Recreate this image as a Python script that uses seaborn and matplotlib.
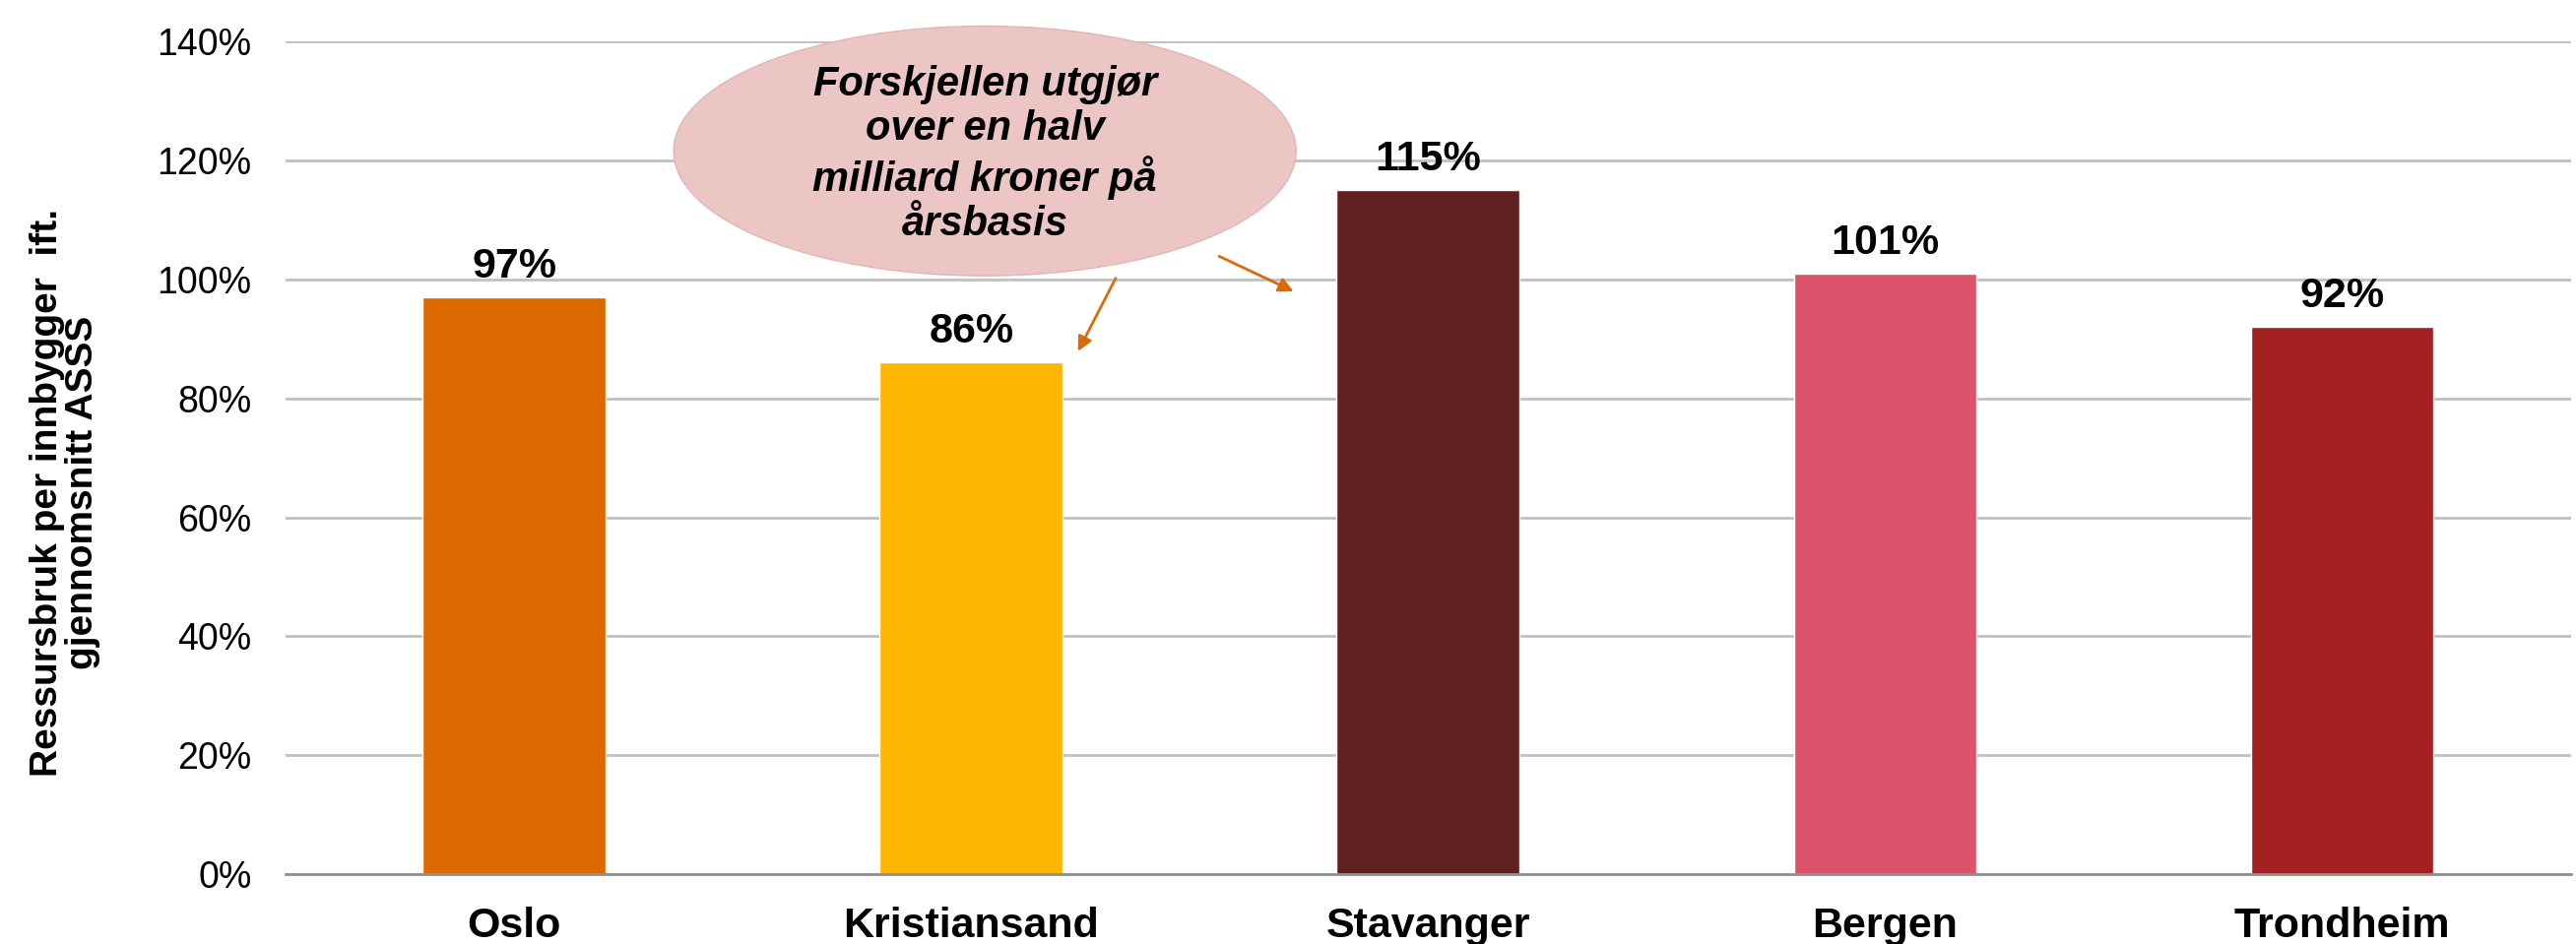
import matplotlib
matplotlib.use("Agg")
import matplotlib.pyplot as plt
from matplotlib.patches import Ellipse
import seaborn as sns
import pandas as pd

# chart data
cities = ["Oslo", "Kristiansand", "Stavanger", "Bergen", "Trondheim"]
ressursbruk = [97, 86, 115, 101, 92]
bar_colors = ["#DC6900", "#FFB600", "#602020", "#DB536A", "#A32020"]
y_ticks = [0, 20, 40, 60, 80, 100, 120, 140]
note_text = "Forskjellen utgjør\nover en halv\nmilliard kroner på\nårsbasis"
y_label = "Ressursbruk per innbygger  ift.\ngjennomsnitt ASSS"

df = pd.DataFrame({"by": cities, "verdi": ressursbruk})

sns.set_theme(style="white")
plt.rcParams["font.family"] = ["Liberation Sans", "DejaVu Sans"]
plt.rcParams["text.color"] = "black"
plt.rcParams["xtick.color"] = "black"
plt.rcParams["ytick.color"] = "black"
plt.rcParams["axes.labelcolor"] = "black"

fig = plt.figure(figsize=(26.16, 9.59), dpi=100)
ax = fig.add_axes([0.1109, 0.074, 0.887, 0.882])

sns.barplot(data=df, x="by", y="verdi", hue="by", palette=bar_colors,
            width=0.4, legend=False, ax=ax, saturation=1)

ax.set_ylim(0, 140)
ax.set_xlim(-0.5, len(cities) - 0.5)
ax.set_yticks(y_ticks)
ax.set_yticklabels([f"{t}%" for t in y_ticks], fontsize=27)
ax.yaxis.grid(True, color="#C0C0C0", linewidth=2)
ax.set_axisbelow(True)
ax.tick_params(axis="y", length=0, pad=25)

# category labels between tick marks at boundaries
ax.set_xticks(range(len(cities)))
ax.set_xticklabels(cities, fontsize=31, fontweight="bold")
ax.tick_params(axis="x", which="major", length=0, pad=24)
ax.set_xticks([i - 0.5 for i in range(len(cities) + 1)], minor=True)
ax.tick_params(axis="x", which="minor", length=14, width=2, color="#909090", direction="out")

for side in ["top", "right", "left"]:
    ax.spines[side].set_visible(False)
ax.spines["bottom"].set_color("#909090")
ax.spines["bottom"].set_linewidth(2)

ax.set_xlabel("")
ax.set_ylabel(y_label, fontsize=28, fontweight="bold", linespacing=1.0)
ax.yaxis.set_label_coords(-0.081, 0.458)

for cont in ax.containers:
    ax.bar_label(cont, fmt="%.0f%%", fontsize=31, fontweight="bold", padding=8)

# callout
ell = Ellipse((1.03, 121.6), 1.362, 42.0, facecolor="#ECC5C5", edgecolor="#E3B5B5",
              linewidth=1, clip_on=False, zorder=5)
ax.add_patch(ell)
ax.text(1.03, 121.0, note_text, ha="center", va="center", fontsize=30,
        fontweight="bold", style="italic", linespacing=1.18, zorder=6)

arrow_kw = dict(arrowstyle="-|>", color="#D96B0A", lw=2, mutation_scale=22)
ax.annotate("", xy=(1.231, 87.5), xytext=(1.319, 100.6), arrowprops=arrow_kw, zorder=6)
ax.annotate("", xy=(1.711, 97.8), xytext=(1.537, 104.1), arrowprops=arrow_kw, zorder=6)

fig.savefig("out.png", dpi=100)
